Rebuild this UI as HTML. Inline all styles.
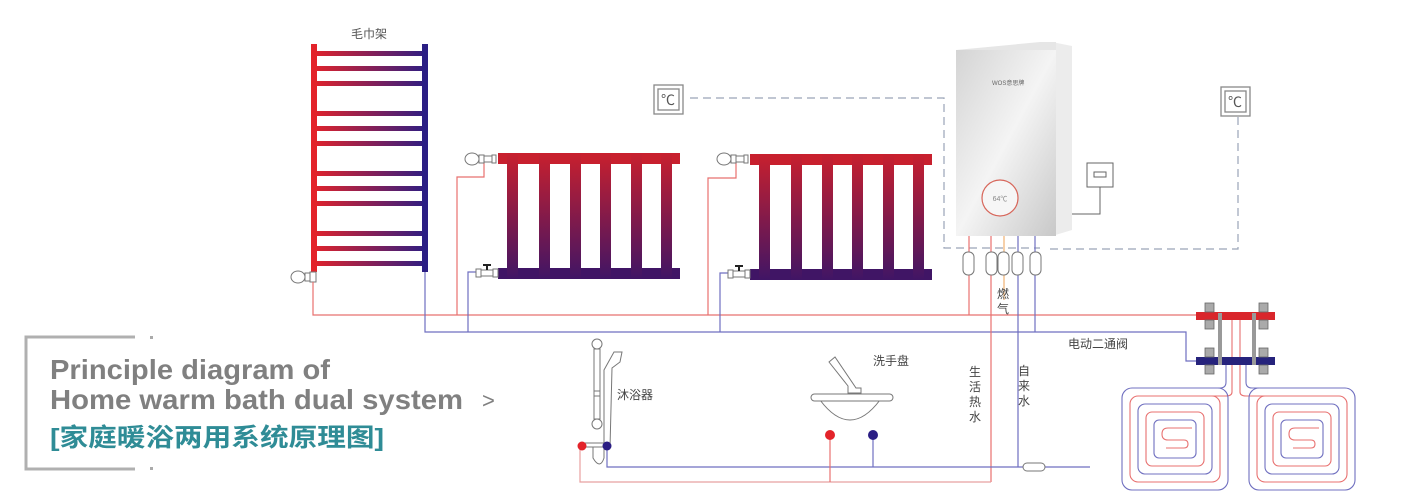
<!DOCTYPE html>
<html><head><meta charset="utf-8"><style>
html,body{margin:0;padding:0;background:#fff;width:1420px;height:500px;overflow:hidden}
svg{display:block}
text{font-family:"Liberation Sans","Noto Sans CJK SC",sans-serif}
</style></head><body>
<svg width="1420" height="500" viewBox="0 0 1420 500" xmlns="http://www.w3.org/2000/svg">
<defs>
<linearGradient id="gh" x1="0" x2="1" y1="0" y2="0"><stop offset="0" stop-color="#e3232a"/><stop offset="1" stop-color="#2b1e84"/></linearGradient>
<linearGradient id="gv" x1="0" x2="0" y1="0" y2="1"><stop offset="0" stop-color="#c8202e"/><stop offset="1" stop-color="#401565"/></linearGradient>
<linearGradient id="boiler" x1="0" x2="1" y1="0" y2="1"><stop offset="0" stop-color="#d4d4d4"/><stop offset="0.5" stop-color="#f4f4f4"/><stop offset="1" stop-color="#c8c8c8"/></linearGradient>
<g id="rad">
<rect x="0" y="0" width="182" height="11" fill="#c8202e"/>
<rect x="0" y="115" width="182" height="11" fill="#401565"/>
<rect x="9" y="0" width="11" height="126" fill="url(#gv)"/>
<rect x="41" y="0" width="11" height="126" fill="url(#gv)"/>
<rect x="72" y="0" width="11" height="126" fill="url(#gv)"/>
<rect x="102" y="0" width="11" height="126" fill="url(#gv)"/>
<rect x="133" y="0" width="11" height="126" fill="url(#gv)"/>
<rect x="163" y="0" width="11" height="126" fill="url(#gv)"/>
</g>
<g id="tv" fill="#fff" stroke="#777" stroke-width="1">
<ellipse cx="8" cy="0" rx="7" ry="6"/><rect x="15" y="-4" width="5" height="8"/><rect x="20" y="-3" width="8" height="6"/><rect x="28" y="-4" width="4" height="8"/>
</g>
<g id="bv" fill="#fff" stroke="#777" stroke-width="1">
<rect x="0" y="-4" width="5" height="8"/><rect x="5" y="-3" width="12" height="6"/><rect x="17" y="-4" width="5" height="8"/><rect x="7" y="-9" width="8" height="2" fill="#222" stroke="none"/><rect x="10" y="-8" width="2" height="5" fill="#222" stroke="none"/>
</g>
<g id="coil" fill="none" stroke-width="1.1">
<rect x="0" y="0" width="106" height="102" rx="10" stroke="#7070c0"/>
<rect x="8" y="8" width="90" height="86" rx="8" stroke="#e8706f"/>
<rect x="16" y="16" width="74" height="70" rx="7" stroke="#7070c0"/>
<rect x="24" y="24" width="58" height="54" rx="6" stroke="#e8706f"/>
<rect x="32" y="32" width="42" height="38" rx="5" stroke="#7070c0"/>
<path d="M70 40 L46 40 Q40 40 40 46 Q40 52 46 52 L62 52 Q66 52 66 56 Q66 60 62 60 L44 60" stroke="#e8706f"/>
</g>
</defs>

<!-- towel rack -->
<text x="369" y="38" font-size="12" fill="#555" text-anchor="middle">毛巾架</text>
<g fill="url(#gh)">
<rect x="312" y="51" width="116" height="5"/><rect x="312" y="66" width="116" height="5"/><rect x="312" y="81" width="116" height="5"/>
<rect x="312" y="111" width="116" height="5"/><rect x="312" y="126" width="116" height="5"/><rect x="312" y="141" width="116" height="5"/>
<rect x="312" y="171" width="116" height="5"/><rect x="312" y="186" width="116" height="5"/><rect x="312" y="201" width="116" height="5"/>
<rect x="312" y="231" width="116" height="5"/><rect x="312" y="246" width="116" height="5"/><rect x="312" y="261" width="116" height="5"/>
</g>
<rect x="311" y="44" width="6" height="228" fill="#e3232a"/>
<rect x="422" y="44" width="6" height="228" fill="#2b1e84"/>
<g fill="#fff" stroke="#777"><ellipse cx="298" cy="277" rx="7" ry="6"/><rect x="305" y="273" width="5" height="8"/><rect x="310" y="272" width="6" height="10"/></g>

<!-- pipes main -->
<g fill="none" stroke-width="1.2">
<polyline points="313,282 313,315 1200,315" stroke="#e8706f"/>
<polyline points="425,272 425,332 1186,332 1186,361 1200,361" stroke="#6f6fc0"/>
<polyline points="484,159 484,177 457,177 457,315" stroke="#e8706f"/>
<polyline points="476,272 468,272 468,332" stroke="#6f6fc0"/>
<polyline points="736,159 736,178 708,178 708,315" stroke="#e8706f"/>
<polyline points="728,273 720,273 720,332" stroke="#6f6fc0"/>
</g>

<!-- radiators -->
<use href="#rad" x="498" y="153"/>
<use href="#rad" x="750" y="154"/>
<use href="#tv" x="464" y="159"/>
<use href="#tv" x="716" y="159"/>
<use href="#bv" x="476" y="273"/>
<use href="#bv" x="728" y="274"/>

<!-- thermostats -->
<g fill="none" stroke="#888" stroke-width="1.3">
<rect x="654" y="85" width="29" height="29"/><rect x="658" y="89" width="21" height="21"/>
<rect x="1221" y="87" width="29" height="29"/><rect x="1225" y="91" width="21" height="21"/>
</g>
<text x="668" y="105" font-size="14" fill="#555" text-anchor="middle">℃</text>
<text x="1235" y="107" font-size="14" fill="#555" text-anchor="middle">℃</text>
<g fill="none" stroke="#9aa4b8" stroke-width="1.2" stroke-dasharray="8,5">
<polyline points="690,98 944,98 944,248 1040,248"/>
<polyline points="1050,249 1238,249 1238,116"/>
</g>

<!-- boiler -->
<polygon points="1052,42 1072,46 1072,230 1052,236" fill="#ececec"/>
<rect x="956" y="50" width="100" height="186" fill="url(#boiler)"/>
<polygon points="956,50 1040,42 1056,42 1056,50" fill="#e6e6e6"/>
<text x="992" y="85" font-size="6" fill="#666">WOS意思牌</text>
<circle cx="1000" cy="198" r="18" fill="#f6f6f6" stroke="#d7665a" stroke-width="1.2"/>
<text x="1000" y="201" font-size="7" fill="#888" text-anchor="middle">64℃</text>
<g fill="none" stroke="#666" stroke-width="1"><rect x="1087" y="163" width="26" height="24"/><rect x="1094" y="172" width="12" height="5"/><polyline points="1100,187 1100,214 1072,214"/></g>

<!-- boiler pipes -->
<g fill="none" stroke-width="1.2">
<line x1="969" y1="236" x2="969" y2="315" stroke="#e8706f"/>
<line x1="991" y1="236" x2="991" y2="482" stroke="#e8706f"/>
<line x1="1004" y1="236" x2="1004" y2="300" stroke="#f0b070"/>
<line x1="1018" y1="236" x2="1018" y2="467" stroke="#6f6fc0"/>
<line x1="1035" y1="236" x2="1035" y2="332" stroke="#6f6fc0"/>
</g>
<g fill="#fff" stroke="#777" stroke-width="1">
<rect x="963" y="252" width="11" height="23" rx="5"/><rect x="986" y="252" width="11" height="23" rx="5"/><rect x="998" y="252" width="11" height="23" rx="5"/><rect x="1012" y="252" width="11" height="23" rx="5"/><rect x="1030" y="252" width="11" height="23" rx="5"/>
</g>
<text x="1003" y="298" font-size="12" fill="#444" text-anchor="middle">燃</text>
<text x="1003" y="313" font-size="12" fill="#444" text-anchor="middle">气</text>
<g font-size="12" fill="#444" text-anchor="middle">
<text x="975" y="376">生</text><text x="975" y="391">活</text><text x="975" y="406">热</text><text x="975" y="421">水</text>
<text x="1024" y="375">自</text><text x="1024" y="390">来</text><text x="1024" y="405">水</text>
</g>
<text x="1068" y="348" font-size="12" fill="#444">电动二通阀</text>

<!-- bottom domestic pipes -->
<g fill="none" stroke-width="1.2">
<polyline points="607,448 607,467 1090,467" stroke="#6f6fc0"/>
<polyline points="580,445 580,482 991,482" stroke="#e8a0a0"/>
<line x1="830" y1="436" x2="830" y2="482" stroke="#e8706f"/>
<line x1="873" y1="436" x2="873" y2="467" stroke="#6f6fc0"/>
</g>
<rect x="1023" y="463" width="22" height="8" rx="4" fill="#fff" stroke="#777"/>

<!-- shower -->
<g fill="none" stroke="#777" stroke-width="1">
<circle cx="597" cy="344" r="5" fill="#fff"/><rect x="594" y="349" width="6" height="70"/><circle cx="597" cy="424" r="5" fill="#fff"/>
<rect x="594" y="391" width="6" height="5"/>
<path d="M604 448 L604 370 L614 352 L622 352 L620 362 L612 368 L610 448"/>
<rect x="583" y="443" width="24" height="4"/>
<path d="M593 447 L593 458 Q600 470 604 458 L604 447"/>
</g>
<circle cx="582" cy="446" r="4.5" fill="#e3232a"/><circle cx="607" cy="446" r="4.5" fill="#2b1e84"/>
<text x="617" y="399" font-size="12" fill="#444">沐浴器</text>

<!-- sink -->
<g fill="#fff" stroke="#777" stroke-width="1">
<path d="M829 362 L835 357 L856 388 L861 388 L861 393 L848 393 L848 386 Z"/>
<path d="M820 400 Q850 440 880 400 Z"/>
<rect x="811" y="394" width="82" height="7" rx="3.5"/>
</g>
<circle cx="830" cy="435" r="5" fill="#e3232a"/><circle cx="873" cy="435" r="5" fill="#2b1e84"/>
<text x="873" y="365" font-size="12" fill="#444">洗手盘</text>

<!-- floor heating -->
<g fill="none" stroke-width="1.1">
<path d="M1226 365 L1226 382 Q1226 388 1220 388 L1180 388" stroke="#7070c0"/>
<path d="M1232 320 L1232 392 Q1232 396 1226 396 L1190 396" stroke="#e8706f"/>
<path d="M1240 320 L1240 392 Q1240 396 1246 396 L1290 396" stroke="#e8706f"/>
<path d="M1246 365 L1246 382 Q1246 388 1252 388 L1290 388" stroke="#7070c0"/>
</g>
<use href="#coil" x="1122" y="388"/>
<use href="#coil" x="1249" y="388"/>
<rect x="1196" y="312" width="79" height="8" fill="#d9262b"/>
<rect x="1196" y="357" width="79" height="8" fill="#26237c"/>
<rect x="1218" y="313" width="4" height="52" fill="#999"/>
<rect x="1252" y="313" width="4" height="52" fill="#999"/>
<g fill="#aaa" stroke="#666" stroke-width="0.8">
<rect x="1205" y="303" width="9" height="9"/><rect x="1259" y="303" width="9" height="9"/>
<rect x="1205" y="320" width="9" height="9"/><rect x="1259" y="320" width="9" height="9"/>
<rect x="1205" y="348" width="9" height="9"/><rect x="1259" y="348" width="9" height="9"/>
<rect x="1205" y="365" width="9" height="9"/><rect x="1259" y="365" width="9" height="9"/>
</g>

<!-- title block -->
<polyline points="135,337 26,337 26,469 135,469" fill="none" stroke="#b0b0b0" stroke-width="3"/>
<rect x="150" y="336" width="3" height="3" fill="#aaa"/><rect x="150" y="467" width="3" height="3" fill="#aaa"/>
<text x="50" y="379" font-size="28" font-weight="bold" fill="#808080" textLength="280" lengthAdjust="spacingAndGlyphs">Principle diagram of</text>
<text x="50" y="409" font-size="28" font-weight="bold" fill="#808080" textLength="413" lengthAdjust="spacingAndGlyphs">Home warm bath dual system</text>
<text x="482" y="408" font-size="22" fill="#808080">&gt;</text>
<text x="50" y="446" font-size="25" font-weight="bold" fill="#2f8c96" textLength="334" lengthAdjust="spacingAndGlyphs">[家庭暖浴两用系统原理图]</text>
</svg>
</body></html>
